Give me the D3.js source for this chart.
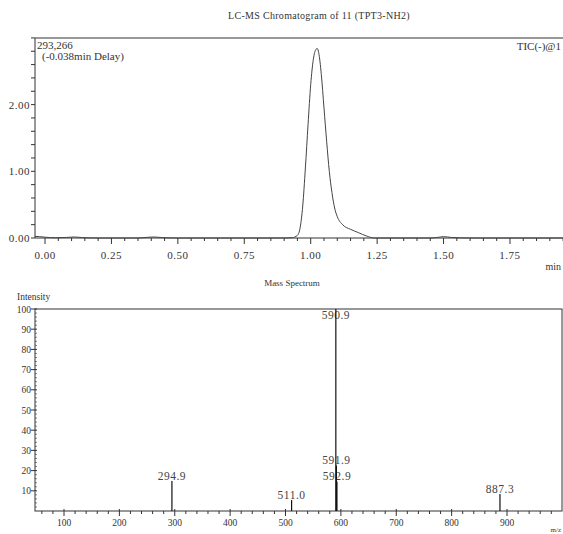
<!DOCTYPE html>
<html>
<head>
<meta charset="utf-8">
<script src="https://cdn.jsdelivr.net/npm/d3@7"></script>
<style>
body { margin: 0; background: #fff; }
svg text { font-family: "Liberation Serif", serif; fill: #333; }
</style>
</head>
<body>
<div id="chart"></div>
<script>
// TIC chromatogram
var tic_time  = [-0.038, -0.02, 0.0, 0.04, 0.08, 0.11, 0.14, 0.2, 0.35, 0.38, 0.41, 0.44, 0.5, 0.9, 0.93, 0.95, 0.96, 0.97, 0.98, 0.99, 1.00, 1.01, 1.02, 1.025, 1.03, 1.04, 1.05, 1.06, 1.07, 1.08, 1.09, 1.10, 1.12, 1.15, 1.18, 1.21, 1.24, 1.45, 1.48, 1.50, 1.53, 1.6, 2.1];
var tic_value = [0.025, 0.02, 0.012, 0.004, 0.008, 0.015, 0.006, 0.0, 0.0, 0.008, 0.015, 0.006, 0.0, 0.0, 0.004, 0.04, 0.15, 0.48, 1.05, 1.7, 2.3, 2.68, 2.83, 2.84, 2.78, 2.45, 1.95, 1.45, 1.0, 0.68, 0.45, 0.32, 0.2, 0.13, 0.08, 0.03, 0.0, 0.0, 0.01, 0.02, 0.008, 0.0, 0.0];
var tic_major_ticks = [0, 0.25, 0.5, 0.75, 1.0, 1.25, 1.5, 1.75];
var tic_y_labels = [0, 1, 2];

// mass spectrum peaks
var ms_mz        = [294.9, 511.0, 590.9, 591.9, 592.9, 887.3];
var ms_intensity = [14.8, 5.4, 100, 22.5, 14.5, 8.4];
var ms_labels    = ['294.9', '511.0', '590.9', '591.9', '592.9', '887.3'];
var ms_x_ticks   = [100, 200, 300, 400, 500, 600, 700, 800, 900];
var ms_y_ticks   = [10, 20, 30, 40, 50, 60, 70, 80, 90, 100];

var width = 563, height = 534;
var line_color = '#333';

var svg = d3.select('#chart').append('svg')
    .attr('width', width)
    .attr('height', height);

// ---------- top: chromatogram ----------
let top_box = {left: 35, top: 38, bottom: 238, right: 620};
let tx = d3.scaleLinear().domain([0, 1]).range([45, 45 + 265.7]);
let ty = d3.scaleLinear().domain([0, 1]).range([top_box.bottom, top_box.bottom - 66.7]);

svg.append('text')
    .attr('x', 319).attr('y', 19)
    .attr('text-anchor', 'middle')
    .style('font-size', '10px')
    .style('letter-spacing', '0.3px')
    .text('LC-MS Chromatogram of 11 (TPT3-NH2)');

let top_g = svg.append('g');

// minor / major ticks on x
let tx_minor = d3.range(0, 2.051, 0.05);
top_g.selectAll('.tx-tick')
    .data(tx_minor)
    .enter().append('line')
    .attr('x1', d => tx(d)).attr('x2', d => tx(d))
    .attr('y1', top_box.bottom)
    .attr('y2', d => top_box.bottom + (Math.abs(d * 4 - Math.round(d * 4)) < 1e-6 ? 6 : 3))
    .attr('stroke', line_color).attr('stroke-width', 1);

top_g.selectAll('.tx-label')
    .data(tic_major_ticks)
    .enter().append('text')
    .attr('x', d => tx(d)).attr('y', top_box.bottom + 21)
    .attr('text-anchor', 'middle')
    .style('font-size', '11px')
    .style('letter-spacing', '0.5px')
    .text(d => d3.format('.2f')(d));

// y ticks
let ty_minor = d3.range(0, 3.01, 0.2);
top_g.selectAll('.ty-tick')
    .data(ty_minor)
    .enter().append('line')
    .attr('x1', top_box.left - 4).attr('x2', top_box.left)
    .attr('y1', d => ty(d)).attr('y2', d => ty(d))
    .attr('stroke', line_color).attr('stroke-width', 1);

top_g.selectAll('.ty-label')
    .data(tic_y_labels)
    .enter().append('text')
    .attr('x', top_box.left - 5).attr('y', d => ty(d) + 4)
    .attr('text-anchor', 'end')
    .style('font-size', '11px')
    .style('letter-spacing', '0.5px')
    .text(d => d3.format('.2f')(d));

// frame
top_g.append('path')
    .attr('d', `M ${top_box.right} ${top_box.top} H ${top_box.left} V ${top_box.bottom} H ${top_box.right}`)
    .attr('fill', 'none').attr('stroke', line_color).attr('stroke-width', 1);

// trace
let tic_pts = tic_time.map((t, i) => [t, tic_value[i]]);
top_g.append('path')
    .datum(tic_pts)
    .attr('d', d3.line().x(d => tx(d[0])).y(d => ty(d[1])).curve(d3.curveMonotoneX))
    .attr('fill', 'none').attr('stroke', '#444').attr('stroke-width', 1);

top_g.append('text').attr('x', 37).attr('y', 49).style('font-size', '11px').text('293,266');
top_g.append('text').attr('x', 42).attr('y', 60).style('font-size', '11px').text('(-0.038min Delay)');
top_g.append('text').attr('x', 561).attr('y', 50).attr('text-anchor', 'end').style('font-size', '11px').text('TIC(-)@1');
top_g.append('text').attr('x', 561).attr('y', 270).attr('text-anchor', 'end').style('font-size', '10px').text('min');

// ---------- bottom: mass spectrum ----------
let bot_box = {left: 35, top: 309, bottom: 511, right: 562};
let mx = d3.scaleLinear().domain([100, 900]).range([64, 507]);
let my = d3.scaleLinear().domain([0, 100]).range([bot_box.bottom, bot_box.top]);

svg.append('text')
    .attr('x', 292).attr('y', 286)
    .attr('text-anchor', 'middle')
    .style('font-size', '9px')
    .text('Mass Spectrum');

svg.append('text')
    .attr('x', 17).attr('y', 300)
    .style('font-size', '9.5px')
    .text('Intensity');

let bot_g = svg.append('g');

let mx_minor = d3.range(60, 1000, 20);
bot_g.selectAll('.mx-tick')
    .data(mx_minor)
    .enter().append('line')
    .attr('x1', d => mx(d)).attr('x2', d => mx(d))
    .attr('y1', d => bot_box.bottom - (d % 100 === 0 ? 2 : 0))
    .attr('y2', d => bot_box.bottom + (d % 100 === 0 ? 5 : 3))
    .attr('stroke', line_color).attr('stroke-width', 1);

bot_g.selectAll('.mx-label')
    .data(ms_x_ticks)
    .enter().append('text')
    .attr('x', d => mx(d)).attr('y', bot_box.bottom + 15)
    .attr('text-anchor', 'middle')
    .style('font-size', '9.5px')
    .text(d => d);

let my_minor = d3.range(2, 100.1, 2);
bot_g.selectAll('.my-tick')
    .data(my_minor)
    .enter().append('line')
    .attr('x1', d => bot_box.left - (d % 10 === 0 ? 4 : 0))
    .attr('x2', bot_box.left + 2)
    .attr('y1', d => my(d)).attr('y2', d => my(d))
    .attr('stroke', line_color).attr('stroke-width', d => d % 10 === 0 ? 1 : 0.6);

bot_g.selectAll('.my-label')
    .data(ms_y_ticks)
    .enter().append('text')
    .attr('x', bot_box.left - 4).attr('y', d => my(d) + 3.5)
    .attr('text-anchor', 'end')
    .style('font-size', '9.5px')
    .text(d => d);

bot_g.append('rect')
    .attr('x', bot_box.left).attr('y', bot_box.top)
    .attr('width', bot_box.right - bot_box.left)
    .attr('height', bot_box.bottom - bot_box.top)
    .attr('fill', 'none').attr('stroke', line_color).attr('stroke-width', 1);

// peak labels first so sticks draw over them
bot_g.selectAll('.ms-label')
    .data(ms_mz)
    .enter().append('text')
    .attr('x', d => mx(d))
    .attr('y', (d, i) => Math.max(my(ms_intensity[i]) - 1.5, bot_box.top + 10))
    .attr('text-anchor', 'middle')
    .style('font-size', '11.5px')
    .style('letter-spacing', '0.5px')
    .style('fill', '#444')
    .text((d, i) => ms_labels[i]);

bot_g.selectAll('.ms-stick')
    .data(ms_mz)
    .enter().append('line')
    .attr('x1', d => mx(d)).attr('x2', d => mx(d))
    .attr('y1', bot_box.bottom)
    .attr('y2', (d, i) => my(ms_intensity[i]))
    .attr('stroke', '#111').attr('stroke-width', 1.2);

bot_g.append('text').attr('x', 561).attr('y', 532).attr('text-anchor', 'end').style('font-size', '7px').text('m/z');
</script>
</body>
</html>
